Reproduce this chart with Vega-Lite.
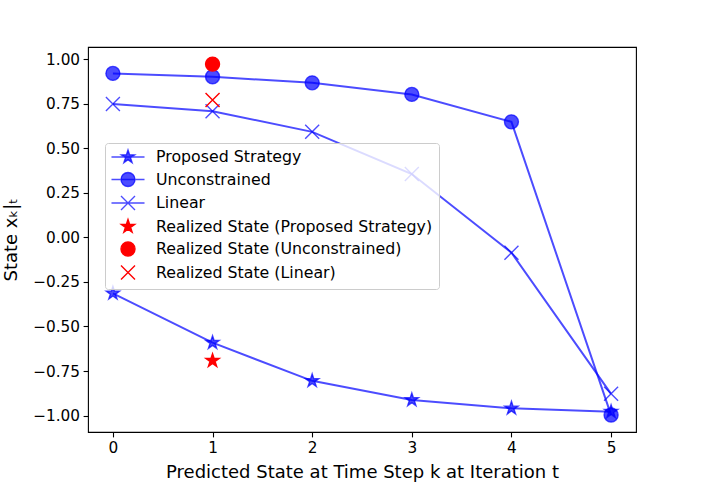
{
  "$schema": "https://vega.github.io/schema/vega-lite/v6.json",
  "autosize": {"type": "none"},
  "padding": {"left": 88, "top": 47, "right": 71, "bottom": 55},
  "width": 548,
  "height": 385,
  "background": "white",
  "config": {
    "view": {"stroke": "black", "strokeWidth": 1.1},
    "font": "DejaVu Sans",
    "axis": {
      "labelFont": "DejaVu Sans", "titleFont": "DejaVu Sans",
      "labelColor": "black", "titleColor": "black", "tickColor": "black",
      "domain": false, "grid": false,
      "labelFontSize": 15.3, "titleFontSize": 18, "titleFontWeight": "normal",
      "tickSize": 4.9, "tickWidth": 1.1, "labelPadding": 3.5
    },
    "legend": {
      "orient": "none", "legendX": 17, "legendY": 96,
      "fillColor": "rgba(255,255,255,0.8)", "strokeColor": "#cccccc", "cornerRadius": 3,
      "padding": 6, "symbolSize": 196, "symbolStrokeWidth": 1.4, "symbolOffset": 9,
      "labelOffset": 20, "rowPadding": 3.5, "labelFontSize": 15.8, "labelFont": "DejaVu Sans",
      "labelColor": "black", "labelLimit": 500
    }
  },
  "data": {"values": [
    {"k": 0, "value": -0.314, "series": "Proposed Strategy"},
    {"k": 1, "value": -0.591, "series": "Proposed Strategy"},
    {"k": 2, "value": -0.805, "series": "Proposed Strategy"},
    {"k": 3, "value": -0.912, "series": "Proposed Strategy"},
    {"k": 4, "value": -0.959, "series": "Proposed Strategy"},
    {"k": 5, "value": -0.978, "series": "Proposed Strategy"},
    {"k": 0, "value": 0.920, "series": "Unconstrained"},
    {"k": 1, "value": 0.901, "series": "Unconstrained"},
    {"k": 2, "value": 0.867, "series": "Unconstrained"},
    {"k": 3, "value": 0.802, "series": "Unconstrained"},
    {"k": 4, "value": 0.648, "series": "Unconstrained"},
    {"k": 5, "value": -0.997, "series": "Unconstrained"},
    {"k": 0, "value": 0.748, "series": "Linear"},
    {"k": 1, "value": 0.708, "series": "Linear"},
    {"k": 2, "value": 0.592, "series": "Linear"},
    {"k": 3, "value": 0.355, "series": "Linear"},
    {"k": 4, "value": -0.086, "series": "Linear"},
    {"k": 5, "value": -0.878, "series": "Linear"},
    {"k": 1, "value": -0.692, "series": "Realized State (Proposed Strategy)"},
    {"k": 1, "value": 0.972, "series": "Realized State (Unconstrained)"},
    {"k": 1, "value": 0.770, "series": "Realized State (Linear)"}
  ]},
  "encoding": {
    "x": {
      "field": "k", "type": "quantitative",
      "scale": {"domain": [-0.25, 5.25], "nice": false, "zero": false},
      "axis": {"values": [0, 1, 2, 3, 4, 5], "format": "d", "labelAngle": 0,
               "title": "Predicted State at Time Step k at Iteration t", "titlePadding": 8}
    },
    "y": {
      "field": "value", "type": "quantitative",
      "scale": {"domain": [-1.092, 1.068], "nice": false, "zero": false},
      "axis": {"values": [-1, -0.75, -0.5, -0.25, 0, 0.25, 0.5, 0.75, 1], "format": ".2f",
               "title": "State xₖ|ₜ", "titlePadding": 12}
    }
  },
  "layer": [
    {
      "transform": [{"filter": {"field": "series", "oneOf": ["Proposed Strategy", "Unconstrained", "Linear"]}}],
      "mark": {"type": "line", "color": "#0000ff", "opacity": 0.7, "strokeWidth": 2},
      "encoding": {"detail": {"field": "series"}}
    },
    {
      "mark": {"type": "point", "size": 196, "strokeWidth": 1.4, "opacity": 1},
      "encoding": {
        "shape": {
          "field": "series", "type": "nominal", "legend": null,
          "scale": {
            "domain": ["Proposed Strategy", "Unconstrained", "Linear", "Realized State (Proposed Strategy)", "Realized State (Unconstrained)", "Realized State (Linear)"],
            "range": [
              "M0,-1L0.225,-0.309L0.951,-0.309L0.363,0.118L0.588,0.809L0,0.382L-0.588,0.809L-0.363,0.118L-0.951,-0.309L-0.225,-0.309Z",
              "circle",
              "M-1,-1L1,1M-1,1L1,-1",
              "M0,-1L0.225,-0.309L0.951,-0.309L0.363,0.118L0.588,0.809L0,0.382L-0.588,0.809L-0.363,0.118L-0.951,-0.309L-0.225,-0.309Z",
              "circle",
              "M-1,-1L1,1M-1,1L1,-1"
            ]
          }
        },
        "fill": {
          "field": "series", "type": "nominal", "legend": null,
          "scale": {
            "domain": ["Proposed Strategy", "Unconstrained", "Linear", "Realized State (Proposed Strategy)", "Realized State (Unconstrained)", "Realized State (Linear)"],
            "range": ["rgba(0,0,255,0.7)", "rgba(0,0,255,0.7)", "transparent", "#ff0000", "#ff0000", "transparent"]
          }
        },
        "stroke": {
          "field": "series", "type": "nominal", "legend": null,
          "scale": {
            "domain": ["Proposed Strategy", "Unconstrained", "Linear", "Realized State (Proposed Strategy)", "Realized State (Unconstrained)", "Realized State (Linear)"],
            "range": ["rgba(0,0,255,0.7)", "rgba(0,0,255,0.7)", "rgba(0,0,255,0.7)", "#ff0000", "#ff0000", "#ff0000"]
          }
        }
      }
    },
    {
      "transform": [{"filter": "false"}],
      "mark": {"type": "point", "size": 196, "strokeWidth": 1.4, "opacity": 1},
      "encoding": {
        "shape": {
          "field": "series", "type": "nominal", "legend": {"title": null},
          "scale": {
            "domain": ["Proposed Strategy", "Unconstrained", "Linear", "Realized State (Proposed Strategy)", "Realized State (Unconstrained)", "Realized State (Linear)"],
            "range": [
              "M-2.36,0H2.36M0,-1L0.225,-0.309L0.951,-0.309L0.363,0.118L0.588,0.809L0,0.382L-0.588,0.809L-0.363,0.118L-0.951,-0.309L-0.225,-0.309Z",
              "M-2.36,0H2.36M1,0C1,0.552,0.552,1,0,1C-0.552,1,-1,0.552,-1,0C-1,-0.552,-0.552,-1,0,-1C0.552,-1,1,-0.552,1,0Z",
              "M-2.36,0H2.36M-1,-1L1,1M-1,1L1,-1",
              "M0,-1L0.225,-0.309L0.951,-0.309L0.363,0.118L0.588,0.809L0,0.382L-0.588,0.809L-0.363,0.118L-0.951,-0.309L-0.225,-0.309Z",
              "circle",
              "M-1,-1L1,1M-1,1L1,-1"
            ]
          }
        },
        "fill": {
          "field": "series", "type": "nominal", "legend": {"title": null},
          "scale": {
            "domain": ["Proposed Strategy", "Unconstrained", "Linear", "Realized State (Proposed Strategy)", "Realized State (Unconstrained)", "Realized State (Linear)"],
            "range": ["rgba(0,0,255,0.7)", "rgba(0,0,255,0.7)", "transparent", "#ff0000", "#ff0000", "transparent"]
          }
        },
        "stroke": {
          "field": "series", "type": "nominal", "legend": {"title": null},
          "scale": {
            "domain": ["Proposed Strategy", "Unconstrained", "Linear", "Realized State (Proposed Strategy)", "Realized State (Unconstrained)", "Realized State (Linear)"],
            "range": ["rgba(0,0,255,0.7)", "rgba(0,0,255,0.7)", "rgba(0,0,255,0.7)", "#ff0000", "#ff0000", "#ff0000"]
          }
        }
      }
    }
  ],
  "resolve": {
    "scale": {"shape": "independent", "fill": "independent", "stroke": "independent"},
    "legend": {"shape": "independent", "fill": "independent", "stroke": "independent"}
  }
}
